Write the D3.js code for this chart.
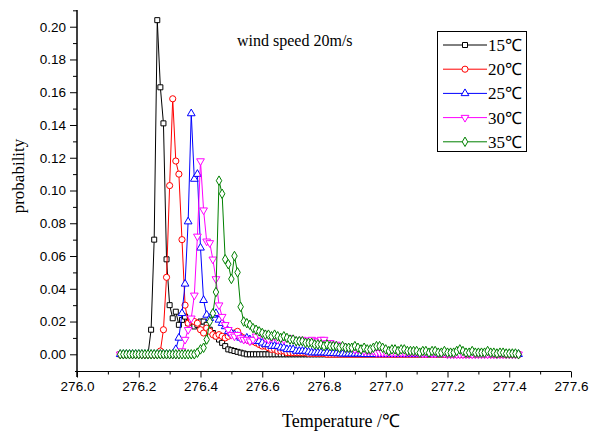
<!DOCTYPE html>
<html>
<head>
<meta charset="utf-8">
<script src="https://cdn.jsdelivr.net/npm/d3@7"></script>
<style>
  body { margin: 0; background: #fff; }
  svg { display: block; }
</style>
</head>
<body>
<svg id="chart" width="592" height="434"></svg>
<script>
// temperature grid, 276.14 .. 277.43 in 0.01 steps
let temps = d3.range(130).map(function (i) { return +(276.14 + i * 0.01).toFixed(2); });

let seriesNames = ['15℃', '20℃', '25℃', '30℃', '35℃'];
let xTicks = [276.0, 276.2, 276.4, 276.6, 276.8, 277.0, 277.2, 277.4, 277.6];
let yTicks = [0.00, 0.02, 0.04, 0.06, 0.08, 0.10, 0.12, 0.14, 0.16, 0.18, 0.20];

let p15 = [
  0, 0, 0, 0, 0, 0, 0, 0, 0, 0,
  0.015, 0.070, 0.204, 0.163, 0.141, 0.058, 0.030, 0.022, 0.026, 0.018,
  0.021, 0.023, 0.019, 0.020, 0.017, 0.018, 0.020, 0.020, 0.018, 0.015,
  0.013, 0.011, 0.009, 0.007, 0.005, 0.003, 0.0025, 0.002, 0.0015, 0.001,
  0.0005, 0, 0, 0, 0, 0, 0, 0, 0, 0,
  0, 0, 0, 0, 0, 0, 0, 0, 0, 0,
  0, 0, 0, 0, 0, 0, 0, 0, 0, 0,
  0, 0, 0, 0, 0, 0, 0, 0, 0, 0,
  0, 0, 0, 0, 0, 0, 0, 0, 0, 0,
  0, 0, 0, 0, 0, 0, 0, 0, 0, 0,
  0, 0, 0, 0, 0, 0, 0, 0, 0, 0,
  0, 0, 0, 0, 0, 0, 0, 0, 0, 0,
  0, 0, 0, 0, 0, 0, 0, 0, 0, 0
];
let p20 = [
  0, 0, 0, 0, 0, 0, 0, 0, 0, 0,
  0, 0, 0, 0.002, 0.015, 0.047, 0.103, 0.156, 0.118, 0.110,
  0.070, 0.030, 0.019, 0.021, 0.020, 0.019, 0.015, 0.013, 0.016, 0.014,
  0.012, 0.011, 0.012, 0.011, 0.010, 0.011, 0.012, 0.013, 0.014, 0.011,
  0.010, 0.009, 0.008, 0.008, 0.007, 0.006, 0.005, 0.005, 0.004, 0.003,
  0.003, 0.002, 0.002, 0.002, 0.001, 0.001, 0.001, 0.001, 0.001, 0.001,
  0.001, 0.0005, 0.0005, 0.0005, 0.0005, 0.0005, 0.0005, 0, 0, 0,
  0, 0, 0, 0, 0, 0, 0, 0, 0, 0,
  0, 0, 0, 0, 0, 0, 0, 0, 0, 0,
  0, 0, 0, 0, 0, 0, 0, 0, 0, 0,
  0, 0, 0, 0, 0, 0, 0, 0, 0, 0,
  0, 0, 0, 0, 0, 0, 0, 0, 0, 0,
  0, 0, 0, 0, 0, 0, 0, 0, 0, 0
];
let p25 = [
  0, 0, 0, 0, 0, 0, 0, 0, 0, 0,
  0, 0, 0, 0, 0, 0, 0, 0, 0.003, 0.010,
  0.025, 0.043, 0.081, 0.147, 0.107, 0.110, 0.065, 0.033, 0.024, 0.022,
  0.024, 0.025, 0.021, 0.019, 0.017, 0.014, 0.013, 0.012, 0.011, 0.010,
  0.009, 0.010, 0.009, 0.008, 0.008, 0.008, 0.007, 0.006, 0.006, 0.005,
  0.005, 0.005, 0.004, 0.004, 0.003, 0.003, 0.003, 0.002, 0.002, 0.002,
  0.002, 0.0015, 0.001, 0.001, 0.001, 0.001, 0.001, 0.0008, 0.0007, 0.0006,
  0.0005, 0.0005, 0.0003, 0.0003, 0.0003, 0.0003, 0.0003, 0.0003, 0.0003, 0,
  0, 0, 0, 0, 0, 0, 0, 0, 0, 0,
  0, 0, 0, 0, 0, 0, 0, 0, 0, 0,
  0, 0, 0, 0, 0, 0, 0, 0, 0, 0,
  0, 0, 0, 0, 0, 0, 0, 0, 0, 0,
  0, 0, 0, 0, 0, 0, 0, 0, 0, 0
];
let p30 = [
  0, 0, 0, 0, 0, 0, 0, 0, 0, 0,
  0, 0, 0, 0, 0, 0, 0, 0, 0, 0,
  0.002, 0.009, 0.015, 0.022, 0.036, 0.072, 0.118, 0.088, 0.069, 0.068,
  0.058, 0.046, 0.030, 0.023, 0.018, 0.015, 0.012, 0.011, 0.012, 0.010,
  0.009, 0.009, 0.008, 0.009, 0.011, 0.012, 0.013, 0.010, 0.009, 0.010,
  0.011, 0.009, 0.010, 0.009, 0.010, 0.010, 0.009, 0.008, 0.008, 0.009,
  0.008, 0.008, 0.009, 0.008, 0.008, 0.009, 0.009, 0.007, 0.007, 0.006,
  0.006, 0.005, 0.005, 0.004, 0.004, 0.004, 0.003, 0.003, 0.003, 0.002,
  0.002, 0.002, 0.002, 0.001, 0.001, 0.001, 0.001, 0.001, 0.001, 0.001,
  0.001, 0.001, 0.001, 0.001, 0.001, 0.001, 0.001, 0.0005, 0.0005, 0.0005,
  0.0005, 0.0005, 0.0005, 0.0005, 0.0005, 0.0005, 0, 0, 0, 0,
  0, 0, 0, 0, 0, 0, 0, 0, 0, 0,
  0, 0, 0, 0, 0, 0, 0, 0, 0, 0
];
let p35 = [
  0, 0, 0, 0, 0, 0, 0, 0, 0, 0,
  0, 0, 0, 0, 0, 0, 0, 0, 0, 0,
  0, 0, 0, 0, 0, 0.001, 0.003, 0.004, 0.009, 0.020,
  0.025, 0.038, 0.106, 0.098, 0.058, 0.055, 0.046, 0.060, 0.050, 0.029,
  0.020, 0.019, 0.018, 0.016, 0.015, 0.014, 0.013, 0.012, 0.012, 0.011,
  0.012, 0.011, 0.010, 0.011, 0.010, 0.009, 0.009, 0.008, 0.008, 0.008,
  0.007, 0.007, 0.007, 0.006, 0.006, 0.006, 0.005, 0.006, 0.005, 0.005,
  0.005, 0.004, 0.005, 0.004, 0.004, 0.004, 0.005, 0.004, 0.003, 0.004,
  0.003, 0.003, 0.004, 0.005, 0.005, 0.004, 0.003, 0.002, 0.003, 0.003,
  0.002, 0.003, 0.003, 0.002, 0.002, 0.002, 0.002, 0.001, 0.002, 0.002,
  0.001, 0.002, 0.002, 0.001, 0.001, 0.002, 0.001, 0.001, 0.001, 0.002,
  0.003, 0.002, 0.001, 0.001, 0.002, 0.001, 0.001, 0.001, 0.001, 0.002,
  0.001, 0.001, 0.0005, 0.001, 0.001, 0.0005, 0.0005, 0.0005, 0.0005, 0
];

let allSeries = [p15, p20, p25, p30, p35];
let colors = ['#000000', '#ff0000', '#0000ff', '#ff00ff', '#008000'];
let symbols = [
  d3.symbol().type(d3.symbolSquare).size(25),
  d3.symbol().type(d3.symbolCircle).size(30),
  d3.symbol().type(d3.symbolTriangle).size(26),
  d3.symbol().type(d3.symbolTriangle).size(26),
  d3.symbol().type(d3.symbolDiamond).size(26)
];
let rotations = [0, 0, 0, 180, 0];

let svg = d3.select('#chart');

let xScale = d3.scaleLinear().domain([276.0, 277.6]).range([77, 571]);
let yScale = d3.scaleLinear().domain([-0.0105, 0.2102]).range([371.5, 10]);

let tickFont = '"Liberation Sans", Arial, sans-serif';
let serif = '"Liberation Serif", "Times New Roman", serif';

// x axis
let xAxis = svg.append('g').attr('transform', 'translate(0,371.5)');
xAxis.call(d3.axisBottom(xScale).tickValues(xTicks).tickSize(6).tickPadding(4).tickFormat(d3.format('.1f')));
xAxis.append('g').call(d3.axisBottom(xScale)
  .tickValues(d3.range(8).map(function (i) { return 276.1 + i * 0.2; }))
  .tickSize(3).tickFormat(''));
xAxis.selectAll('.domain').attr('d', 'M75,0H571');
xAxis.selectAll('text').style('font-family', tickFont).style('font-size', '13.5px').attr('fill', '#000');

// y axis
let yAxis = svg.append('g').attr('transform', 'translate(77,0)');
yAxis.call(d3.axisLeft(yScale).tickValues(yTicks).tickSize(7).tickPadding(4).tickFormat(d3.format('.2f')));
yAxis.append('g').call(d3.axisLeft(yScale)
  .tickValues(d3.range(11).map(function (i) { return 0.01 + i * 0.02; }))
  .tickSize(4).tickFormat(''));
yAxis.selectAll('.domain').attr('d', 'M0,10V377');
yAxis.selectAll('text').style('font-family', tickFont).style('font-size', '13.5px').attr('fill', '#000');
svg.selectAll('.tick line, .domain').attr('stroke', '#000').attr('stroke-width', 1);

// series
let line = d3.line()
  .x(function (d) { return xScale(d.t); })
  .y(function (d) { return yScale(d.p); });

allSeries.forEach(function (vals, k) {
  let pts = vals.map(function (p, i) { return {t: temps[i], p: p}; });
  let g = svg.append('g');
  g.append('path')
    .datum(pts)
    .attr('d', line)
    .attr('fill', 'none')
    .attr('stroke', colors[k])
    .attr('stroke-width', 1);
  g.selectAll('path.mk')
    .data(pts)
    .enter()
    .append('path')
    .attr('class', 'mk')
    .attr('d', symbols[k])
    .attr('transform', function (d) {
      return 'translate(' + xScale(d.t) + ',' + yScale(d.p) + ') rotate(' + rotations[k] + ')';
    })
    .attr('fill', '#fff')
    .attr('stroke', colors[k])
    .attr('stroke-width', 1);
});

// legend
let legend = svg.append('g');
legend.append('rect')
  .attr('x', 437.5).attr('y', 31.5).attr('width', 89).attr('height', 120)
  .attr('fill', '#fff').attr('stroke', '#000').attr('stroke-width', 1);
seriesNames.forEach(function (name, k) {
  let yy = 45 + k * 24.2;
  legend.append('line')
    .attr('x1', 443).attr('x2', 487).attr('y1', yy).attr('y2', yy)
    .attr('stroke', colors[k]).attr('stroke-width', 1);
  legend.append('path')
    .attr('d', symbols[k])
    .attr('transform', 'translate(465,' + yy + ') rotate(' + rotations[k] + ')')
    .attr('fill', '#fff').attr('stroke', colors[k]);
  legend.append('text')
    .attr('x', 488).attr('y', yy + 6)
    .style('font-family', serif).style('font-size', '17px')
    .text(name);
});

// annotation and axis titles
svg.append('text')
  .attr('x', 237).attr('y', 46)
  .style('font-family', serif).style('font-size', '16px')
  .text('wind speed 20m/s');

svg.append('text')
  .attr('transform', 'translate(24,176) rotate(-90)')
  .attr('text-anchor', 'middle')
  .style('font-family', serif).style('font-size', '17px')
  .text('probability');

svg.append('text')
  .attr('x', 341).attr('y', 427)
  .attr('text-anchor', 'middle')
  .style('font-family', serif).style('font-size', '18px')
  .text('Temperature /℃');
</script>
</body>
</html>
